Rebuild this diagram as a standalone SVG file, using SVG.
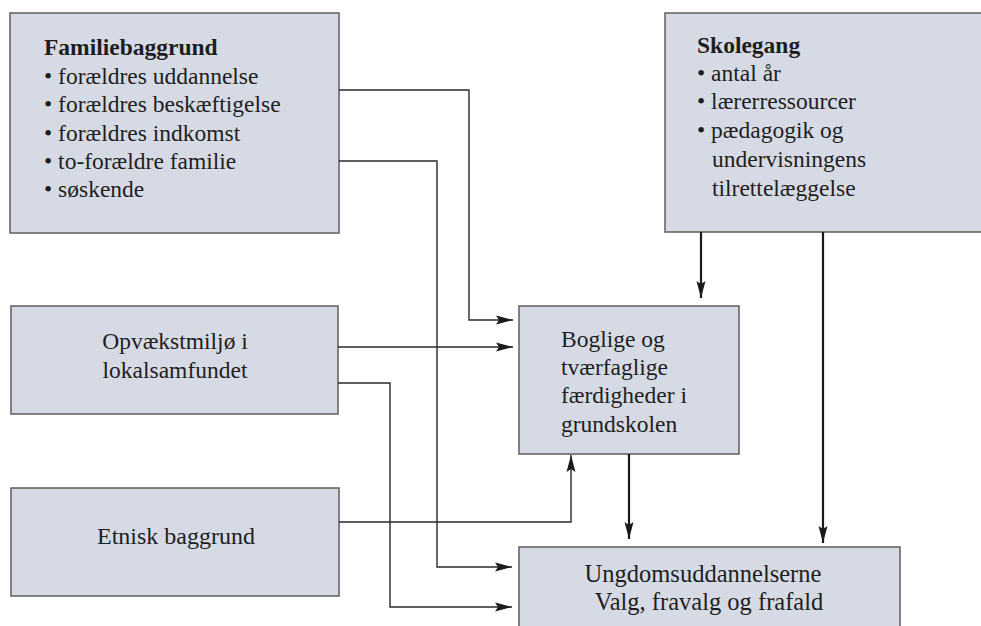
<svg xmlns="http://www.w3.org/2000/svg" width="981" height="626" viewBox="0 0 981 626">
  <style>
    .box { fill: #d6dae4; stroke: #666; stroke-width: 1.6; }
    .t { font-size: 23.5px; fill: #1e1e22; }
    .b { font-weight: bold; }
    .m { text-anchor: middle; }
    .ln { fill: none; stroke: #2a2a2a; stroke-width: 1.4; }
    .thick { fill: none; stroke: #1a1a1a; stroke-width: 2.2; }
  </style>
  <defs>
    <marker id="arr" markerUnits="userSpaceOnUse" markerWidth="18" markerHeight="10" refX="17" refY="5" orient="auto">
      <path d="M0,0.5 L17,5 L0,9.5 L3,5 Z" fill="#1a1a1a"/>
    </marker>
  </defs>

  <rect width="981" height="626" fill="#ffffff"/>

  <g font-family="Liberation Serif, DejaVu Serif, serif">
  <g id="familiebaggrund">
    <rect class="box" x="10" y="13" width="329" height="220"/>
    <text class="t b" x="44" y="55">Familiebaggrund</text>
    <text class="t" x="44" y="84">• forældres uddannelse</text>
    <text class="t" x="44" y="112">• forældres beskæftigelse</text>
    <text class="t" x="44" y="141">• forældres indkomst</text>
    <text class="t" x="44" y="169">• to-forældre familie</text>
    <text class="t" x="44" y="197">• søskende</text>
  </g>

  <g id="skolegang">
    <rect class="box" x="665" y="13" width="330" height="219"/>
    <text class="t b" x="697" y="53">Skolegang</text>
    <text class="t" x="697" y="81">• antal år</text>
    <text class="t" x="697" y="109">• lærerressourcer</text>
    <text class="t" x="697" y="138">• pædagogik og</text>
    <text class="t" x="712" y="167">undervisningens</text>
    <text class="t" x="712" y="196">tilrettelæggelse</text>
  </g>

  <g id="opvaekstmiljoe">
    <rect class="box" x="11" y="306" width="327" height="108"/>
    <text class="t m" x="175" y="349">Opvækstmiljø i</text>
    <text class="t m" x="175" y="378">lokalsamfundet</text>
  </g>

  <g id="etnisk-baggrund">
    <rect class="box" x="11" y="488" width="328" height="108"/>
    <text class="t m" x="176" y="544" style="font-size:24px">Etnisk baggrund</text>
  </g>

  <g id="boglige">
    <rect class="box" x="519" y="306" width="220" height="148"/>
    <text class="t" x="561" y="347">Boglige og</text>
    <text class="t" x="561" y="375">tværfaglige</text>
    <text class="t" x="561" y="403">færdigheder i</text>
    <text class="t" x="561" y="432">grundskolen</text>
  </g>

  <g id="ungdomsuddannelserne">
    <rect class="box" x="519" y="547" width="381" height="100"/>
    <text class="t m" x="703" y="582" style="font-size:24.5px">Ungdomsuddannelserne</text>
    <text class="t m" x="709" y="610" style="font-size:24.5px">Valg, fravalg og frafald</text>
  </g>
  </g>

  <g id="connectors">
    <path class="ln" d="M339,90 H469 V320 H513" marker-end="url(#arr)"/>
    <path class="ln" d="M339,161 H437 V567 H512" marker-end="url(#arr)"/>
    <path class="ln" d="M338,347 H513" marker-end="url(#arr)"/>
    <path class="ln" d="M338,383 H390 V607 H512" marker-end="url(#arr)"/>
    <path class="ln" d="M339,522 H571 V455" marker-end="url(#arr)"/>
    <path class="thick" d="M701,232 V298" marker-end="url(#arr)"/>
    <path class="thick" d="M823,232 V543" marker-end="url(#arr)"/>
    <path class="thick" d="M629,454 V539" marker-end="url(#arr)"/>
  </g>
</svg>
